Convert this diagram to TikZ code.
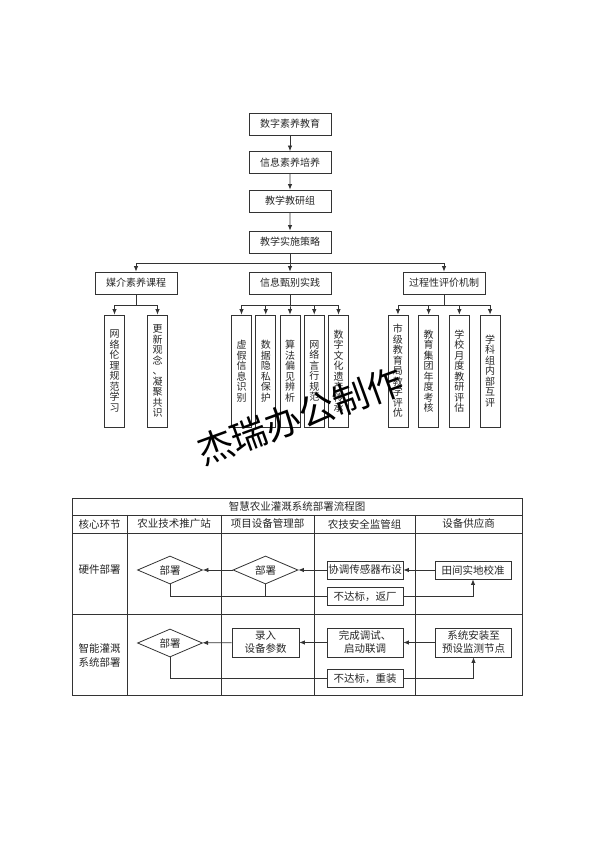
\documentclass[tikz,border=0pt]{standalone}
\usepackage{fontspec}
\setmainfont{Noto Sans CJK SC}
\usetikzlibrary{arrows.meta,shapes.geometric,positioning}

\tikzset{
    tline/.style={draw=black!80, line width=0.8pt},
    arr/.style={tline, -{Latex[length=5.5pt,width=4.5pt]}},
    fbox/.style={tline, minimum width=76pt, minimum height=18pt, inner sep=1pt, align=center, text=black!85, font=\fontsize{10.5}{13}\selectfont},
    jue/.style={tline, diamond, aspect=2.3, inner sep=1pt, minimum width=65pt, minimum height=28pt, text=black!85, font=\fontsize{10.5}{13}\selectfont},
    head/.style={text=black!85, font=\fontsize{10.5}{13}\selectfont, align=center}
}

\begin{document}
\begin{tikzpicture}[
    x=1pt, y=1pt,
    hbox/.style={tline, minimum width=82pt, minimum height=22pt, inner sep=1pt, text=black!85, font=\fontsize{10}{12}\selectfont},
    vbox/.style={tline, minimum width=20pt, minimum height=112pt, inner sep=0pt, text width=10pt, align=center, text=black!85, font=\fontsize{10}{10.5}\selectfont},
    edge from parent/.style={arr},
    level 1/.style={level distance=38.5pt},
    level 2/.style={level distance=38.5pt},
    level 3/.style={level distance=41pt},
    level 4/.style={level distance=41pt, sibling distance=154pt,
        edge from parent path={(\tikzparentnode.south) -- ++(0,-10) -| (\tikzchildnode.north)}},
    level 5/.style={level distance=88pt,
        edge from parent path={(\tikzparentnode.south) -- ++(0,-11) -| (\tikzchildnode.north)}}
    ]
  \useasboundingbox (0,0) rectangle (594,841);

  % top: tree
  \node [hbox] (szsy) at (290,717) {数字素养教育}
    child{node [hbox] (xxsy) {信息素养培养}
      child{node [hbox] (jxjy) {教学教研组}
        child{node [hbox] (sscl) {教学实施策略}
          child{node [hbox] (mjsy) {媒介素养课程} [sibling distance=43pt]
            child{node [vbox] (wllx) {网\\络\\伦\\理\\规\\范\\学\\习}}
            child{node [vbox] (gxgn) {更\\新\\观\\念\\、\\凝\\聚\\共\\识}}
          }
          child{node [hbox] (xxzb) {信息甄别实践} [sibling distance=24.25pt]
            child{node [vbox] (xjxx) {虚\\假\\信\\息\\识\\别}}
            child{node [vbox] (sjys) {数\\据\\隐\\私\\保\\护}}
            child{node [vbox] (sfpj) {算\\法\\偏\\见\\辨\\析}}
            child{node [vbox] (wlyx) {网\\络\\言\\行\\规\\范}}
            child{node [vbox] (szwh) {数\\字\\文\\化\\遗\\产\\传\\承}}
          }
          child{node [hbox] (gcpj) {过程性评价机制} [sibling distance=30.7pt]
            child{node [vbox] (sjjy) {市\\级\\教\\育\\局\\教\\学\\评\\优}}
            child{node [vbox] (jyjt) {教\\育\\集\\团\\年\\度\\考\\核}}
            child{node [vbox] (xxyd) {学\\校\\月\\度\\教\\研\\评\\估}}
            child{node [vbox] (xkzn) {学\\科\\组\\内\\部\\互\\评}}
          }
        }
      }
    };

  % bottom: table
  \draw[tline] (72,146) rectangle (522,343);
  \foreach \y in {326,308,227}
    \draw[tline] (72,\y) -- (522,\y);
  \foreach \x in {127,221,314,415}
    \draw[tline] (\x,326) -- (\x,146);

  \node[head] (title) at (297,335) {智慧农业灌溉系统部署流程图};
  \node[head] (h1) at (99.5,317) {核心环节};
  \node[head] (h2) at (174,317) {农业技术推广站};
  \node[head] (h3) at (267.5,317) {项目设备管理部};
  \node[head] (h4) at (364.5,317) {农技安全监管组};
  \node[head] (h5) at (468.5,317) {设备供应商};

  \node[head] (yjbs) at (99.5,271) {硬件部署};
  \node[head, font=\fontsize{10.5}{14}\selectfont] (znbs) at (99.5,186) {智能灌溉\\系统部署};

  % row 1
  \node[jue] (bs1) at (170,271) {部署};
  \node[jue] (bs2) at (265.5,271) {部署};
  \node[fbox] (xtcg) at (365,271) {协调传感器布设};
  \node[fbox] (tjjz) at (473,271) {田间实地校准};
  \node[fbox] (fc) at (365,244.5) {不达标，返厂};
  \draw[arr] (tjjz) -- (xtcg);
  \draw[arr] (xtcg) -- (bs2);
  \draw[arr] (bs2) -- (bs1);
  \draw[tline] (bs1.south) |- (fc.west);
  \draw[tline] (bs2.south) -- (bs2.south |- fc.west);
  \draw[arr] (fc.east) -| (tjjz.south);

  % row 2
  \node[jue] (bs3) at (170,198) {部署};
  \node[fbox, minimum width=67pt, minimum height=29pt] (lrcs) at (265.5,198.5) {录入\\设备参数};
  \node[fbox, minimum height=29pt] (wcts) at (365,198.5) {完成调试、\\启动联调};
  \node[fbox, minimum height=29pt] (xtaz) at (473.5,198.5) {系统安装至\\预设监测节点};
  \node[fbox] (cz) at (365,162.5) {不达标，重装};
  \draw[arr] (xtaz) -- (wcts);
  \draw[arr] (wcts) -- (lrcs);
  \draw[arr] (lrcs) -- (bs3);
  \draw[tline] (bs3.south) |- (cz.west);
  \draw[arr] (cz.east) -| (xtaz.south);

  % watermark
  \node[rotate=20, font=\fontsize{36}{36}\selectfont] (wm) at (300,425) {杰瑞办公制作};
\end{tikzpicture}
\end{document}
